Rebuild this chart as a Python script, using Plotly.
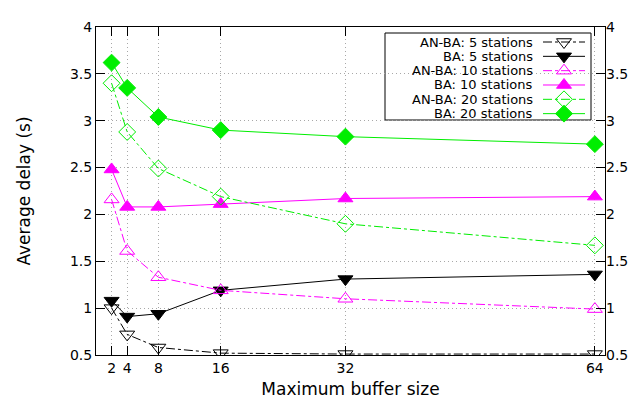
import plotly.graph_objects as go

buffer_sizes = [2, 4, 8, 16, 32, 64]
anba_5 = [1.00, 0.72, 0.58, 0.52, 0.51, 0.51]
ba_5 = [1.08, 0.91, 0.94, 1.19, 1.31, 1.36]
anba_10 = [2.16, 1.61, 1.33, 1.19, 1.10, 0.99]
ba_10 = [2.48, 2.08, 2.08, 2.11, 2.17, 2.19]
anba_20 = [3.40, 2.88, 2.49, 2.19, 1.90, 1.67]
ba_20 = [3.62, 3.35, 3.04, 2.90, 2.83, 2.75]

series_names = ["AN-BA: 5 stations", "BA: 5 stations", "AN-BA: 10 stations",
                "BA: 10 stations", "AN-BA: 20 stations", "BA: 20 stations"]
series_values = [anba_5, ba_5, anba_10, ba_10, anba_20, ba_20]

x_ticks = [2, 4, 8, 16, 32, 64]
y_ticks = [0.5, 1, 1.5, 2, 2.5, 3, 3.5, 4]
y_labels = ["0.5", "1", "1.5", "2", "2.5", "3", "3.5", "4"]

# styles
colors = ["black", "black", "#ff00ff", "#ff00ff", "#00ee00", "#00ee00"]
dashes = ["dashdot", "solid", "dashdot", "solid", "dashdot", "solid"]
symbols = ["triangle-down-open", "triangle-down", "triangle-up-open",
           "triangle-up", "diamond-open", "diamond"]
msize = 13

# plot area in pixels
W, H = 638, 400
L, R, T, B = 88, 41, 19, 53
PW, PH = W - L - R, H - T - B

def fx(px):
    return (px - L) / PW

def fy(py):
    return (H - B - py) / PH

fig = go.Figure()
for name, ys, c, d, s in zip(series_names, series_values, colors, dashes, symbols):
    fig.add_trace(go.Scatter(
        x=buffer_sizes, y=ys, name=name, mode="lines+markers", showlegend=False,
        line=dict(color=c, width=1, dash=d),
        marker=dict(symbol=s, size=msize, color=c, line=dict(color=c, width=1)),
    ))

# right-hand mirror axis labels
fig.add_trace(go.Scatter(x=[buffer_sizes[0]], y=[y_ticks[0]], yaxis="y2", mode="markers",
                         marker=dict(opacity=0), showlegend=False, hoverinfo="skip"))

# custom gnuplot-style legend (text left, sample right)
row0, row_gap = 34, 14.33
line_x0, line_x1, mark_x, text_x = fx(535), fx(577), fx(556), fx(527)
annotations = []
for i, (name, c, d, s) in enumerate(zip(series_names, colors, dashes, symbols)):
    yy = fy(row0 + row_gap * i)
    fig.add_trace(go.Scatter(x=[line_x0, line_x1], y=[yy, yy], xaxis="x2", yaxis="y3",
                             mode="lines", line=dict(color=c, width=1, dash=d),
                             showlegend=False, hoverinfo="skip"))
    fig.add_trace(go.Scatter(x=[mark_x], y=[yy], xaxis="x2", yaxis="y3", mode="markers",
                             marker=dict(symbol=s, size=msize, color=c, line=dict(color=c, width=1)),
                             showlegend=False, hoverinfo="skip"))
    annotations.append(dict(x=text_x, y=yy, xref="x2", yref="y3", text=name,
                            showarrow=False, xanchor="right", yanchor="middle",
                            font=dict(size=13, color="black")))

shapes = [dict(type="rect", xref="paper", yref="paper",
               x0=fx(377), x1=fx(583), y0=fy(112), y1=fy(25),
               line=dict(color="black", width=1), fillcolor="white", layer="between")]

font = "DejaVu Sans, sans-serif"
grid = dict(showgrid=True, gridcolor="#a8a8a8", griddash="1px,3px", gridwidth=1)
fig.update_layout(
    width=W, height=H,
    margin=dict(l=L, r=R, t=T, b=B),
    paper_bgcolor="white", plot_bgcolor="white",
    font=dict(family=font, size=14, color="black"),
    showlegend=False,
    annotations=annotations,
    shapes=shapes,
    xaxis=dict(range=[0, 65.3], tickvals=x_ticks, ticktext=[str(v) for v in x_ticks],
               ticks="inside", ticklen=9, tickcolor="black",
               showline=True, linecolor="black", linewidth=1, mirror="ticks",
               automargin=False,
               zeroline=False, title=dict(text="Maximum buffer size", standoff=8), **grid),
    yaxis=dict(range=[0.5, 4], tickvals=y_ticks, ticktext=y_labels,
               ticks="inside", ticklen=9, tickcolor="black",
               showline=True, linecolor="black", linewidth=1, mirror="ticks",
               automargin=False,
               zeroline=False, title=dict(text="Average delay (s)", standoff=34), **grid),
    yaxis2=dict(range=[0.5, 4], tickvals=y_ticks, ticktext=y_labels,
                overlaying="y", side="right", ticks="", showgrid=False,
                automargin=False,
                zeroline=False, showline=False),
    xaxis2=dict(range=[0, 1], overlaying="x", visible=False),
    yaxis3=dict(range=[0, 1], overlaying="y", visible=False),
)

fig.write_html("out.html")
